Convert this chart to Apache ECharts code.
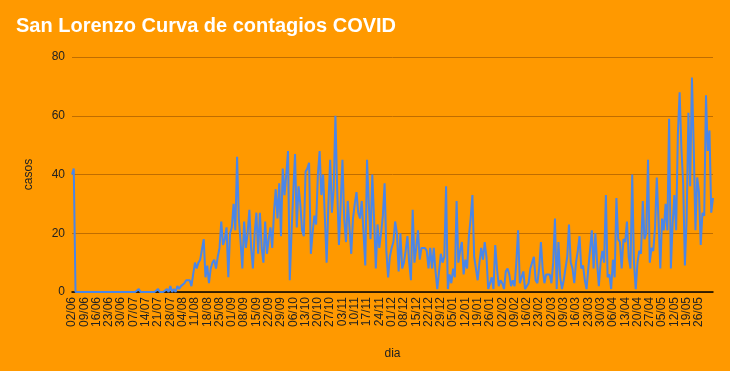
<!DOCTYPE html>
<html><head><meta charset="utf-8">
<script src="https://cdn.jsdelivr.net/npm/echarts@6/dist/echarts.min.js"></script>
<style>html,body{margin:0;padding:0;background:#ff9900}#c{width:730px;height:371px}</style>
</head><body><div id="c"></div>
<script>
// categories: daily dates from 02/06/2020, one day missing in early May 2021
const startDate = [2020, 6, 2];
const missingDates = ['01/05'];
const dayCount = 366;
const lastLabelIndex = 357;
const yTicks = [0, 20, 40, 60, 80];
const casos = [
40,42,0,0,0,0,0,0,0,0,0,0,0,0,0,0,0,0,0,0,
0,0,0,0,0,0,0,0,0,0,0,0,0,0,0,0,0,0,1,0,
0,0,0,0,0,0,0,0,0,1,0,0,0,0,1,0,2,0,1,0,
2,1,2,2,3,4,4,4,2,6,10,8,10,11,11,18,5,9,3,8,
10,11,8,12,15,24,16,18,22,5,20,22,30,21,46,25,17,8,24,15,
20,28,15,8,20,27,13,27,15,10,24,13,18,22,15,27,35,25,37,19,
42,33,40,48,4,20,34,47,22,36,30,21,19,41,42,44,13,20,26,23,
40,48,33,40,25,10,30,45,27,35,60,35,16,30,45,25,17,31,22,13,
25,30,34,27,25,31,20,9,45,30,18,40,25,8,23,15,20,26,37,14,
5,12,15,17,24,20,7,20,8,10,14,19,10,4,28,10,15,21,11,15,
15,15,14,8,15,8,15,7,1,1,13,10,12,36,1,6,3,8,5,31,
10,14,17,6,11,8,19,25,33,12,8,4,10,15,11,17,12,1,3,5,
1,16,8,2,4,3,1,7,8,6,2,4,2,10,21,3,5,7,1,1,
3,8,10,12,4,3,8,17,8,3,6,6,6,3,10,25,1,17,5,1,
4,8,12,23,10,8,3,10,14,19,8,9,4,1,8,8,21,8,20,10,
2,10,14,10,33,5,6,1,11,5,32,18,17,8,18,17,24,12,8,40,
10,1,10,14,13,31,18,20,45,10,15,14,22,39,24,8,25,21,30,21,
59,8,23,33,21,54,68,49,37,9,25,61,36,73,50,21,39,34,16,27,
26,67,48,55,27,32
];
const categories = [];
(function(){
  const d = new Date(startDate[0], startDate[1]-1, startDate[2]);
  while (categories.length < dayCount) {
    const s = String(d.getDate()).padStart(2,'0') + '/' + String(d.getMonth()+1).padStart(2,'0');
    if (!(d.getFullYear() === 2021 && missingDates.includes(s))) categories.push(s);
    d.setDate(d.getDate()+1);
  }
})();
const chart = echarts.init(document.getElementById('c'), null, {renderer:'canvas'});
const font = '"Liberation Sans", Arial, sans-serif';
chart.setOption({
  backgroundColor: '#ff9900',
  animation: false,
  title: {text: 'San Lorenzo Curva de contagios COVID', left: 11, top: 11,
    textStyle: {color: '#ffffff', fontSize: 20, fontWeight: 'bold', fontFamily: font}},
  grid: {left: 72, right: 17, top: 57, bottom: 79},
  xAxis: {type: 'category', data: categories, boundaryGap: false,
    name: 'dia', nameLocation: 'middle', nameGap: 56,
    nameTextStyle: {color: '#222', fontSize: 12, fontFamily: font},
    axisLine: {lineStyle: {color: '#000', width: 1.5}},
    axisTick: {show: false},
    axisLabel: {interval: function(i){ return i % 7 === 0 && i <= lastLabelIndex; },
      rotate: 90, color: '#222', fontSize: 12, fontFamily: font, margin: 5}},
  yAxis: {type: 'value', min: yTicks[0], max: yTicks[yTicks.length-1], interval: 20,
    name: 'casos', nameLocation: 'middle', nameGap: 37,
    nameTextStyle: {color: '#222', fontSize: 12, fontFamily: font},
    axisLine: {show: false}, axisTick: {show: false},
    axisLabel: {color: '#222', fontSize: 12, fontFamily: font, margin: 7},
    splitLine: {lineStyle: {color: '#c06d00', width: 1}}},
  series: [{type: 'line', data: casos, showSymbol: false, symbol: 'none',
    lineStyle: {color: '#4a86e8', width: 2}, itemStyle: {color: '#4a86e8'}}]
});
</script></body></html>
